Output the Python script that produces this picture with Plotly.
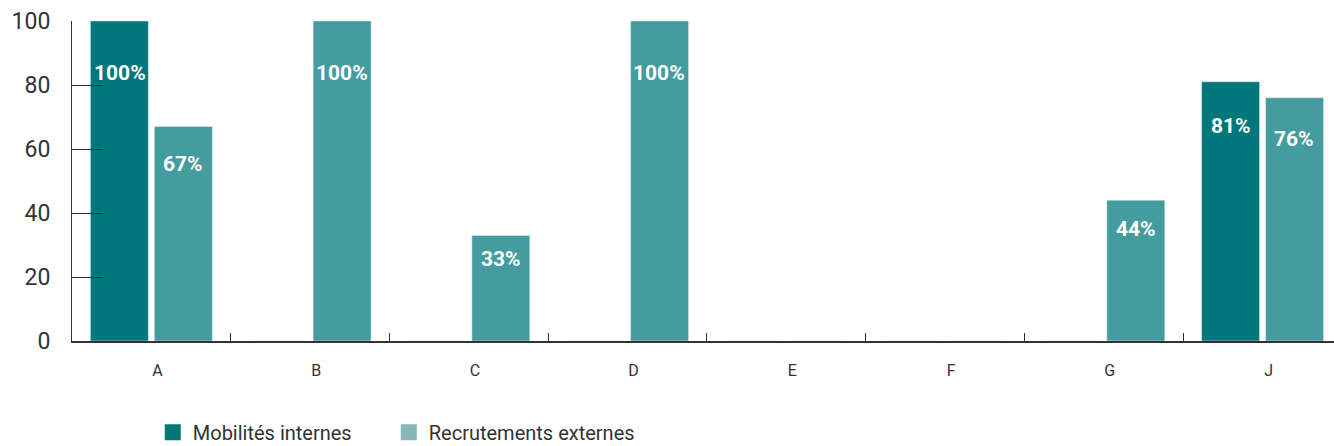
import plotly.graph_objects as go

categories = ["A", "B", "C", "D", "E", "F", "G", "J"]
mobilites = [100, 0, 0, 0, 0, 0, 0, 81]
recrutements = [67, 100, 33, 100, 0, 0, 44, 76]
series_names = ["Mobilités internes", "Recrutements externes"]

DARK = "#00777A"
MID = "#449C9F"
LIGHT = "#88B7BA"

CAT_PX = 158.7

fig = go.Figure()
fig.add_trace(go.Bar(x=categories, y=mobilites, marker_color=DARK, showlegend=False,
                     name=series_names[0]))
fig.add_trace(go.Bar(x=categories, y=recrutements, marker_color=MID, showlegend=False,
                     name=series_names[1]))
# legend entries (one legend each, to place them like the reference)
for nm, col, lg in zip(series_names, [DARK, LIGHT], ["legend", "legend2"]):
    fig.add_trace(go.Scatter(x=[None], y=[None], mode="markers", name=nm, legend=lg,
                             marker=dict(symbol="square", size=22, color=col)))

# value labels
for i, (series, ofs) in enumerate([(mobilites, -0.2), (recrutements, 0.2)]):
    for c, v in zip(categories, series):
        if v > 0:
            fig.add_annotation(x=c, y=v * 0.87, text=f"<b>{v}%</b>", showarrow=False,
                               xshift=ofs * CAT_PX, yshift=-10,
                               font=dict(family="Roboto", size=21, color="white"))

legend_style = dict(orientation="h", xanchor="left", y=-0.285, yanchor="middle",
                    font=dict(size=20, color="#333333"), bgcolor="rgba(0,0,0,0)")
fig.update_layout(
    width=1334, height=446,
    margin=dict(l=72, r=0, t=21, b=105, autoexpand=False),
    plot_bgcolor="white", paper_bgcolor="white",
    barmode="group", bargap=0.194, bargroupgap=0.094,
    font=dict(family="Roboto", color="#333333"),
    legend=dict(x=0.064, **legend_style),
    legend2=dict(x=0.251, **legend_style),
)
fig.update_xaxes(
    range=[-0.5, 7.45], showline=True, linecolor="#333333", linewidth=1.5,
    ticks="inside", tickson="boundaries", ticklen=8, tickcolor="#333333",
    tickfont=dict(size=16, color="#333333"), ticklabelshift=6, ticklabelstandoff=14,
    showgrid=False, zeroline=False, automargin=False,
)
fig.update_yaxes(
    range=[0, 100], showline=True, linecolor="#333333", linewidth=1,
    ticks="inside", ticklen=31, tickcolor="#333333", tickvals=[0, 20, 40, 60, 80, 100],
    tickfont=dict(size=23, color="#333333"), ticklabelstandoff=16,
    showgrid=False, zeroline=False, automargin=False,
)

fig.write_html(
    "out.html",
    config={"displayModeBar": False},
    post_script="document.body.style.margin='0';document.body.style.overflow='hidden';",
)
